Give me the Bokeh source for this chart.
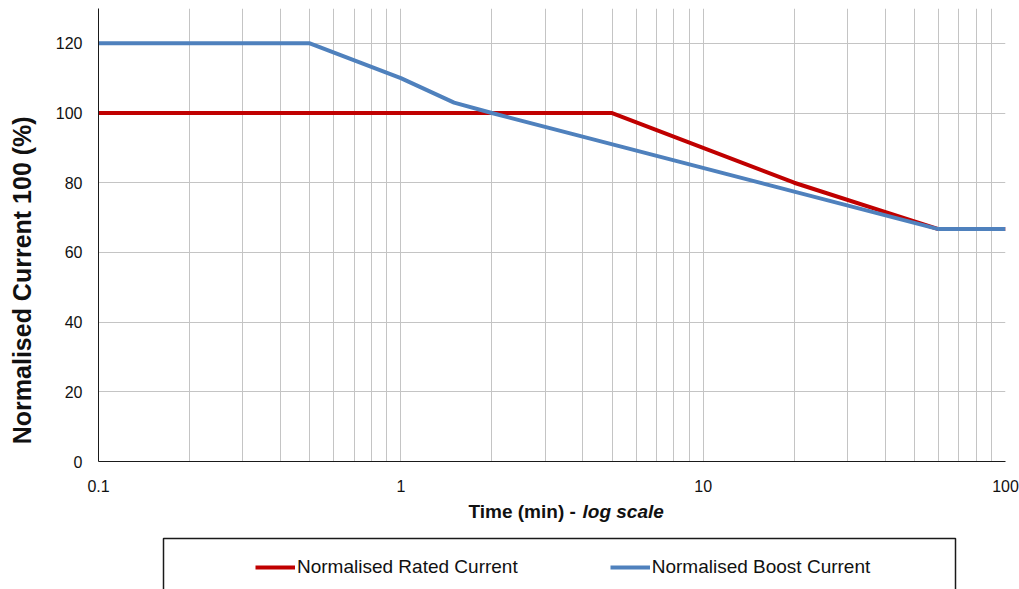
import math
import numpy as np
from bokeh.plotting import figure
from bokeh.models import (Range1d, FixedTicker, CustomJSTickFormatter, Label, Legend,
                          LegendItem, BoxAnnotation)
from bokeh.layouts import column, row
from bokeh.embed import file_html
from bokeh.resources import INLINE

# ---- data ----
time_rated = [0.1, 5, 20, 60, 100]
rated_current = [100, 100, 80, 66.7, 66.7]
time_boost = [0.1, 0.5, 1, 1.5, 2, 60, 100]
boost_current = [120, 120, 110, 103, 100, 66.7, 66.7]

x_ticks = [0.1, 1, 10, 100]
x_minor = [0.2, 0.3, 0.4, 0.5, 0.6, 0.7, 0.8, 0.9,
           2, 3, 4, 5, 6, 7, 8, 9,
           20, 30, 40, 50, 60, 70, 80, 90]
y_ticks = [0, 20, 40, 60, 80, 100, 120]

series_names = ["Normalised Rated Current", "Normalised Boost Current"]
y_title = "Normalised Current 100 (%)"
x_title_main = "Time (min) -"
x_title_italic = "log scale"

RED = "#C00000"
BLUE = "#4F81BD"
GRID = "#C4C4C4"
TXT = "#111111"
FONT = "Liberation Sans"

W = 1019
H = 589
W_LEFT = 42
W_RIGHT = W - W_LEFT
H_MAIN = 500
H_BOTTOM = H - H_MAIN
FRAME_L, FRAME_R, FRAME_T, FRAME_B = 98, 1005, 8, 461

# ---- main plot ----
p = figure(width=W_RIGHT, height=H_MAIN, x_axis_type="log", output_backend="svg",
           toolbar_location=None,
           x_range=Range1d(0.1, 100), y_range=Range1d(0, 130),
           min_border_left=FRAME_L - W_LEFT, min_border_right=W - FRAME_R,
           min_border_top=FRAME_T, min_border_bottom=H_MAIN - FRAME_B)
p.outline_line_color = None
p.background_fill_color = "white"
p.border_fill_color = "white"

p.xaxis.ticker = FixedTicker(ticks=x_ticks, minor_ticks=x_minor)
p.xaxis.formatter = CustomJSTickFormatter(code="return String(Math.round(tick*10)/10);")
p.yaxis.ticker = FixedTicker(ticks=y_ticks)
for ax in (p.xaxis[0], p.yaxis[0]):
    ax.major_tick_line_color = None
    ax.minor_tick_line_color = None
    ax.major_tick_out = 0
    ax.major_tick_in = 0
    ax.minor_tick_out = 0
    ax.minor_tick_in = 0
    ax.axis_line_color = "#1a1a1a"
    ax.axis_line_width = 1
    ax.major_label_text_font = FONT
    ax.major_label_text_font_size = "16px"
    ax.major_label_text_color = TXT
p.xaxis.major_label_standoff = 18
p.yaxis.major_label_standoff = 16

p.xgrid.grid_line_color = GRID
p.xgrid.minor_grid_line_color = GRID
p.ygrid.grid_line_color = GRID

r1 = p.line(time_rated, rated_current, line_color=RED, line_width=4, line_join="round")
r2 = p.line(time_boost, boost_current, line_color=BLUE, line_width=4, line_join="round")

# ---- left strip: y title (frame rows aligned with the main plot) ----
L = figure(width=W_LEFT, height=H, output_backend="svg", toolbar_location=None,
           x_range=Range1d(0, W_LEFT), y_range=Range1d(0, 130),
           x_axis_location=None, y_axis_location=None,
           min_border_left=0, min_border_right=0,
           min_border_top=FRAME_T, min_border_bottom=H - FRAME_B)
L.grid.visible = False
L.outline_line_color = None
L.background_fill_color = "white"
L.border_fill_color = "white"
L.add_layout(Label(x=21, y=52, text=y_title, angle=math.pi / 2,
                   text_align="center", text_baseline="middle",
                   text_font=FONT, text_font_size="25px", text_font_style="bold",
                   text_color=TXT))

# ---- bottom strip: x title and legend (data units == page pixels) ----
q = figure(width=W_RIGHT, height=H_BOTTOM, output_backend="svg", toolbar_location=None,
           x_range=Range1d(FRAME_L, FRAME_R), y_range=Range1d(H, H_MAIN),
           x_axis_location=None, y_axis_location=None,
           min_border_left=FRAME_L - W_LEFT, min_border_right=W - FRAME_R,
           min_border_top=0, min_border_bottom=0)
q.grid.visible = False
q.outline_line_color = None
q.background_fill_color = "white"
q.border_fill_color = "white"

q.add_layout(Label(x=468, y=511, text=x_title_main,
                   text_align="left", text_baseline="middle",
                   text_font=FONT, text_font_size="19px", text_font_style="bold",
                   text_color=TXT))
q.add_layout(Label(x=582, y=511, text=x_title_italic,
                   text_align="left", text_baseline="middle",
                   text_font=FONT, text_font_size="19px", text_font_style="bold italic",
                   text_color=TXT))

q.add_layout(BoxAnnotation(left=163, right=955, top=538, bottom=610,
                           fill_color="white", fill_alpha=1.0,
                           line_color="#1a1a1a", line_alpha=1.0, line_width=1.5,
                           level="underlay"))

d1 = q.line(x=np.array([np.nan]), y=np.array([np.nan]), line_color=RED, line_width=4)
d2 = q.line(x=np.array([np.nan]), y=np.array([np.nan]), line_color=BLUE, line_width=4)
legend = Legend(items=[LegendItem(label=series_names[0], renderers=[d1]),
                       LegendItem(label=series_names[1], renderers=[d2])],
                orientation="horizontal", location=(255 - FRAME_L, 11),
                glyph_width=40, glyph_height=20, label_height=20, label_standoff=2,
                spacing=92, padding=0, margin=0,
                label_text_font=FONT, label_text_font_size="19px",
                label_text_color=TXT,
                border_line_color=None, background_fill_alpha=0)
q.add_layout(legend, "center")

layout = row(L, column(p, q, spacing=0), spacing=0)
open("out.html", "w").write(file_html(layout, INLINE))
